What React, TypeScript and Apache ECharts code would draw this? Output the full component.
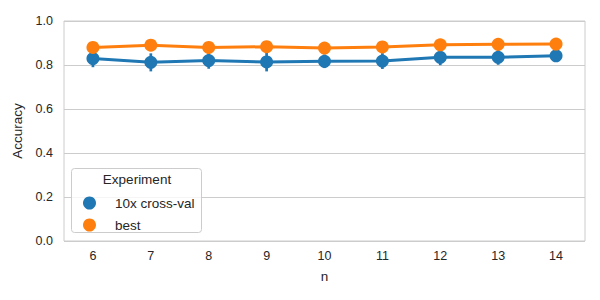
import React, { useEffect, useRef } from "react";
import * as echarts from "echarts";

const categories = ["6", "7", "8", "9", "10", "11", "12", "13", "14"];
const crossValMean = [0.829, 0.812, 0.82, 0.814, 0.817, 0.818, 0.835, 0.835, 0.842];
const crossValLow = [0.79, 0.771, 0.783, 0.771, 0.786, 0.782, 0.799, 0.801, 0.823];
const crossValHigh = [0.868, 0.853, 0.857, 0.857, 0.848, 0.854, 0.871, 0.869, 0.861];
const bestMean = [0.88, 0.89, 0.88, 0.883, 0.877, 0.882, 0.892, 0.894, 0.895];
const yTicks = [0, 0.2, 0.4, 0.6, 0.8, 1.0];

const BLUE = "#1f77b4";
const ORANGE = "#ff7f0e";
const TEXT = "#262626";
const FONT = "'Liberation Sans', Arial, sans-serif";

export default function App() {
  const ref = useRef<HTMLDivElement>(null);
  useEffect(() => {
    if (!ref.current) return;
    const chart = echarts.init(ref.current, undefined, { renderer: "svg" });
    const errData = categories.map((_, i) => [i, crossValLow[i], crossValHigh[i]]);
    chart.setOption({
      animation: false,
      color: [BLUE, ORANGE],
      textStyle: { fontFamily: FONT, color: TEXT },
      grid: {
        left: 64,
        right: 15,
        top: 21,
        bottom: 59,
        show: true,
        borderColor: "#cccccc",
        borderWidth: 1,
      },
      xAxis: {
        type: "category",
        data: categories,
        boundaryGap: true,
        name: "n",
        nameLocation: "middle",
        nameGap: 28,
        nameTextStyle: { fontSize: 13.5, color: TEXT, fontFamily: FONT },
        axisLine: { show: false },
        axisTick: { show: false },
        axisLabel: { fontSize: 12.5, color: TEXT, margin: 8, fontFamily: FONT },
        splitLine: { show: false },
      },
      yAxis: {
        type: "value",
        min: yTicks[0],
        max: yTicks[yTicks.length - 1],
        interval: 0.2,
        name: "Accuracy",
        nameLocation: "middle",
        nameGap: 37,
        nameTextStyle: { fontSize: 13.5, color: TEXT, fontFamily: FONT },
        axisLine: { show: false },
        axisTick: { show: false },
        axisLabel: {
          fontSize: 12.5,
          color: TEXT,
          margin: 11,
          fontFamily: FONT,
          formatter: (v: number) => v.toFixed(1),
        },
        splitLine: { show: true, lineStyle: { color: "#cccccc", width: 1 } },
      },
      legend: {
        orient: "vertical",
        left: 71,
        top: 168,
        z: 10,
        data: [
          { name: "10x cross-val", icon: "circle", itemStyle: { color: BLUE } },
          { name: "best", icon: "circle", itemStyle: { color: ORANGE } },
        ],
        itemWidth: 13,
        itemHeight: 13,
        itemGap: 8,
        padding: [28, 5, 0, 12],
        backgroundColor: "transparent",
        borderWidth: 0,
        textStyle: { fontSize: 13.5, color: TEXT, fontFamily: FONT, padding: [0, 0, 0, 14] },
      },
      graphic: [
        {
          type: "rect",
          z: 5,
          shape: { x: 71.5, y: 168.5, width: 130, height: 64, r: 3 },
          style: { fill: "rgba(255,255,255,0.8)", stroke: "#cccccc", lineWidth: 1 },
        },
        {
          type: "text",
          x: 137,
          y: 179,
          z: 100,
          style: {
            text: "Experiment",
            fill: TEXT,
            font: `13.5px ${FONT}`,
            textAlign: "center",
            textVerticalAlign: "middle",
          },
        },
      ],
      series: [
        {
          type: "custom",
          name: "10x cross-val",
          data: errData,
          encode: { x: 0, y: [1, 2] },
          z: 2,
          itemStyle: { color: BLUE },
          renderItem: (params: any, api: any) => {
            const lo = api.coord([api.value(0), api.value(1)]);
            const hi = api.coord([api.value(0), api.value(2)]);
            return {
              type: "line",
              shape: { x1: lo[0], y1: lo[1], x2: hi[0], y2: hi[1] },
              style: { stroke: BLUE, lineWidth: 2.7 },
            };
          },
        },
        {
          type: "line",
          name: "10x cross-val",
          data: crossValMean,
          z: 3,
          symbol: "circle",
          symbolSize: 13,
          showSymbol: true,
          lineStyle: { color: BLUE, width: 3 },
          itemStyle: { color: BLUE, borderWidth: 0 },
        },
        {
          type: "line",
          name: "best",
          data: bestMean,
          z: 4,
          symbol: "circle",
          symbolSize: 13,
          showSymbol: true,
          lineStyle: { color: ORANGE, width: 3 },
          itemStyle: { color: ORANGE, borderWidth: 0 },
        },
      ],
    });
    return () => chart.dispose();
  }, []);
  return <div ref={ref} style={{ width: 600, height: 300, margin: -8 }} />;
}
